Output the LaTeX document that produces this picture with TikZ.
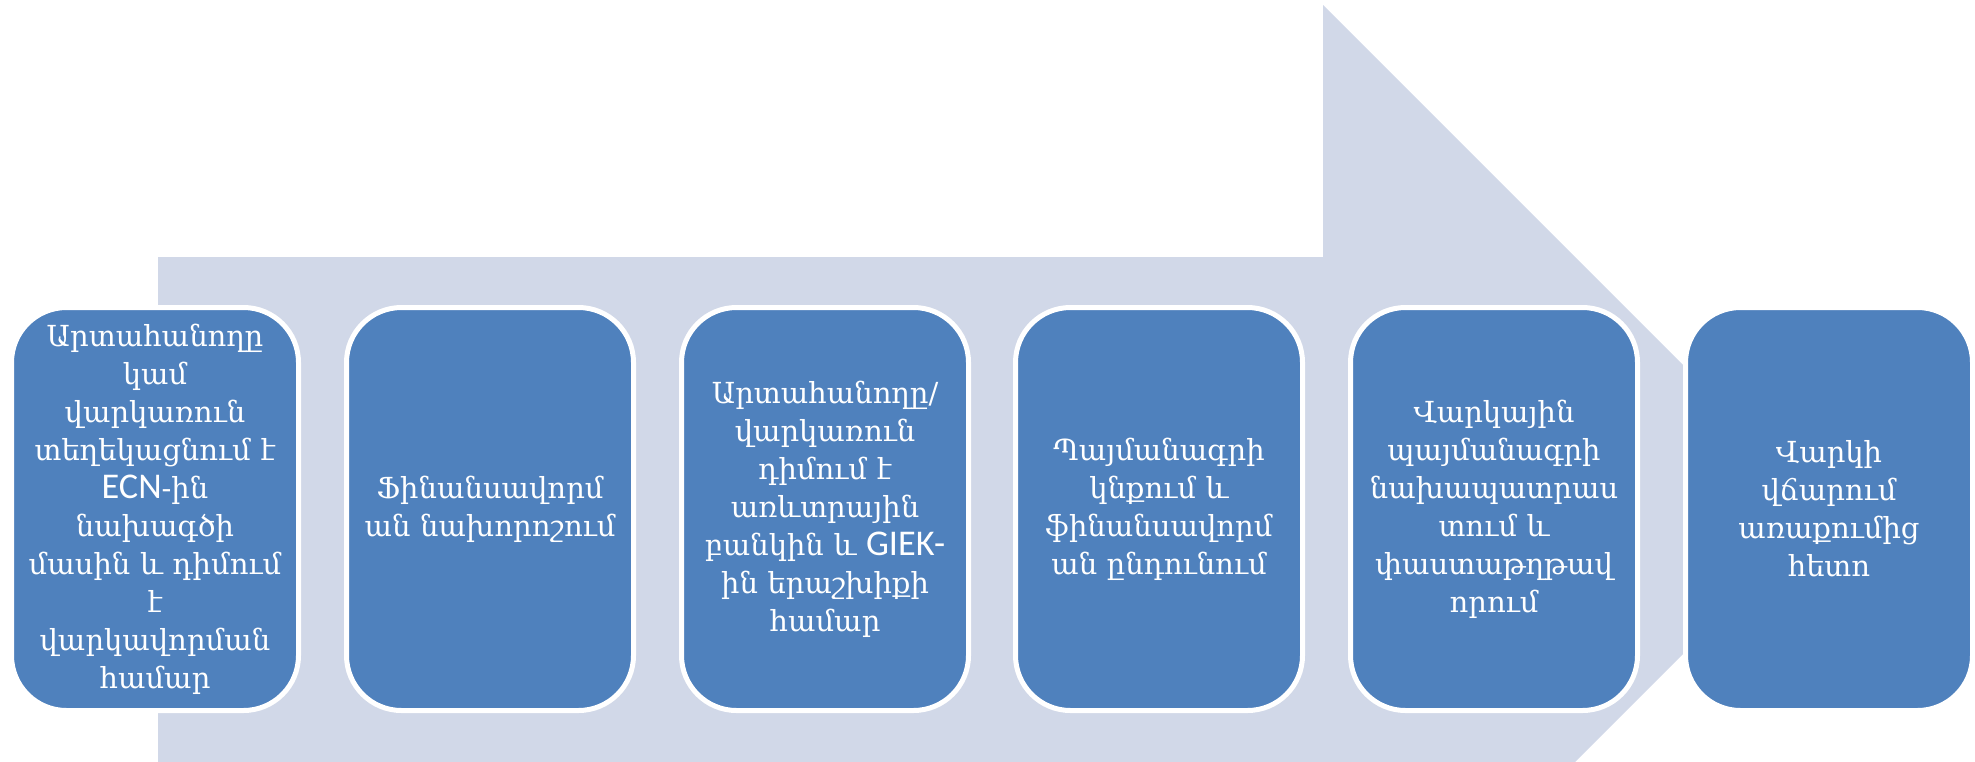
\documentclass[tikz,border=0pt]{standalone}
\usepackage{fontspec}
\setmainfont{DejaVu Serif}
\newfontfamily\latinsans[Scale=1.25]{Carlito}
\definecolor{arrowfill}{HTML}{D1D8E8}
\definecolor{boxfill}{HTML}{4F81BD}
\begin{document}
\begin{tikzpicture}[x=1pt,y=-1pt,
  stepbox/.style={draw=white, line width=5pt, fill=boxfill, rounded corners=55pt,
    minimum width=287pt, minimum height=403pt, text width=276pt, align=center,
    text=white, inner sep=0pt, font=\fontsize{29}{38}\selectfont}]
\useasboundingbox (0,0) rectangle (1975,761);
\clip (0,0) rectangle (1975,761);
\fill[arrowfill] (158,257) -- (1323,257) -- (1323,5) -- (1827.5,509.5) -- (1323,1014) -- (1323,762) -- (158,762) -- cycle;
\node[stepbox] (s1) at (155,509) {Արտահանողը\\ կամ\\ վարկառուն\\ տեղեկացնում է\\ {\latinsans ECN}-ին\\ նախագծի\\ մասին և դիմում\\ է\\ վարկավորման\\ համար};
\node[stepbox] (s2) at (490,509) {Ֆինանսավորմ\\ ան նախորոշում};
\node[stepbox] (s3) at (825,509) {Արտահանողը/\\ վարկառուն\\ դիմում է\\ առևտրային\\ բանկին և {\latinsans GIEK-}\\ ին երաշխիքի\\ համար};
\node[stepbox] (s4) at (1159,509) {Պայմանագրի\\ կնքում և\\ ֆինանսավորմ\\ ան ընդունում};
\node[stepbox] (s5) at (1494,509) {Վարկային\\ պայմանագրի\\ նախապատրաս\\ տում և\\ փաստաթղթավ\\ որում};
\node[stepbox] (s6) at (1829,509) {Վարկի\\ վճարում\\ առաքումից\\ հետո};
\end{tikzpicture}
\end{document}
